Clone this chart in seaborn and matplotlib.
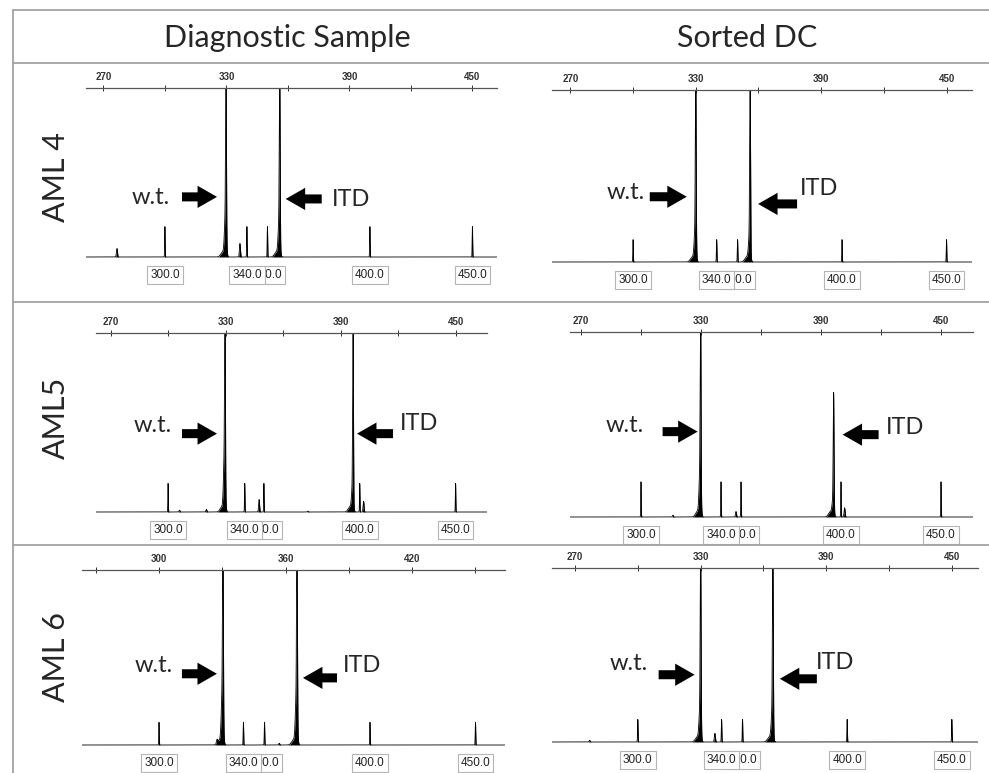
import matplotlib.pyplot as plt
import numpy as np
import seaborn as sns
from matplotlib.lines import Line2D

sns.set_theme(style="white")
plt.rcParams["font.family"] = ["Lato", "DejaVu Sans"]

W, H = 989, 773

# Titles
col_titles = ["Diagnostic Sample", "Sorted DC"]
row_titles = ["AML 4", "AML5", "AML 6"]

# Size standard fragments (bp) and their boxed labels
ladder_bp = [300, 340, 350, 400, 450]
ladder_labels = ["300.0", "340.0", "350.0", "400.0", "450.0"]

# Panels in reading order: AML4 diag, AML4 sorted, AML5 diag, AML5 sorted, AML6 diag, AML6 sorted
ladder_h = [0.18, 0.13, 0.16, 0.19, 0.13, 0.13]

peak_bp = [
    [276.6, 329.8, 336.6, 356.0],
    [330.0, 356.0],
    [306.0, 320.0, 329.7, 347.5, 373.0, 396.5, 402.0],
    [316.0, 329.8, 347.5, 396.3, 401.8],
    [327.5, 330.3, 357.0, 365.4],
    [277.0, 330.0, 336.8, 364.5],
]
peak_h = [
    [0.05, 1.0, 0.08, 1.0],
    [1.0, 1.0],
    [0.01, 0.015, 1.0, 0.07, 0.005, 0.92, 0.06],
    [0.01, 1.0, 0.03, 0.60, 0.05],
    [0.02, 1.0, 0.01, 1.0],
    [0.01, 1.0, 0.05, 1.0],
]
shoulder_h = [
    [0, 0.23, 0, 0.20],
    [0.17, 0.14],
    [0, 0, 0.32, 0, 0, 0.13, 0],
    [0, 0.24, 0, 0.08, 0],
    [0, 0.30, 0, 0.27],
    [0, 0.18, 0, 0.17],
]
wt_bp = [329.8, 330.0, 329.7, 329.8, 330.3, 330.0]
itd_bp = [356.0, 356.0, 396.5, 396.3, 365.4, 364.5]

top_ticks = list(range(270, 451, 30))
top_labels = [
    [270, 330, 390, 450],
    [270, 330, 390, 450],
    [270, 330, 390, 450],
    [270, 330, 390, 450],
    [300, 360, 420],
    [270, 330, 390, 450],
]

# Layout (pixels): left, right, top axis, baseline
panel_px = [
    (86, 497, 88, 257), (552, 972, 90, 262),
    (96, 487, 333, 512), (570, 973, 332, 517),
    (82, 505, 570, 745), (552, 978, 568, 742),
]
panel_xlim = [
    (261.5, 462.0), (261.2, 462.2),
    (262.4, 466.4), (264.5, 466.0),
    (263.5, 464.0), (259.0, 462.5),
]
# arrow/text offsets from the peak in pixels: head, tail, text edge; y fractions: arrow, text baseline
wt_off = [(-9, -44, -56), (-9, -46, -51), (-8, -43, -53), (-3, -38, -57), (-6, -41, -50), (-6, -42, -53)]
itd_off = [(6, 42, 52), (8, 47, 50), (4, 40, 47), (9, 45, 52), (6, 40, 46), (7, 44, 43)]
wt_y = [(0.367, 0.325), (0.39, 0.378), (0.447, 0.458), (0.47, 0.47), (0.417, 0.429), (0.397, 0.425)]
itd_y = [(0.355, 0.314), (0.349, 0.401), (0.447, 0.469), (0.454, 0.459), (0.394, 0.429), (0.374, 0.431)]

fig = plt.figure(figsize=(W / 100, H / 100), dpi=100)


def fx(px):
    return px / W


def fy(py):
    return 1 - py / H


# Frame lines
grey = "#a3a3a3"
for py in [10, 63, 302, 545]:
    fig.add_artist(Line2D([fx(13), 1], [fy(py), fy(py)], color=grey, lw=1.3))
fig.add_artist(Line2D([fx(13), fx(13)], [fy(10), 0], color=grey, lw=1.3))

fig.text(fx(287), fy(47), col_titles[0], fontsize=22, ha="center", va="baseline")
fig.text(fx(747), fy(47), col_titles[1], fontsize=22, ha="center", va="baseline")
for py, name in zip([177, 418, 657], row_titles):
    fig.text(fx(65), fy(py), name, fontsize=22, rotation=90, rotation_mode="anchor",
             ha="center", va="baseline")

arrow_style = "simple,head_length=14,head_width=16,tail_width=6.5"


def gauss(x, mu, sig):
    return np.exp(-0.5 * ((x - mu) / sig) ** 2)


for i, (x0, x1, top, base) in enumerate(panel_px):
    pad = 3
    ax = fig.add_axes([fx(x0), fy(base + pad), (x1 - x0) / W, (base + pad - top) / H])
    lo, hi = panel_xlim[i]
    ppb = (x1 - x0) / (hi - lo)

    grid = np.linspace(lo, hi, 12000)
    trace = np.zeros_like(grid)
    for bp in ladder_bp:
        trace += ladder_h[i] * gauss(grid, bp, 0.12)
    for bp, h, s in zip(peak_bp[i], peak_h[i], shoulder_h[i]):
        trace += h * gauss(grid, bp, 0.2 if h > 0.5 else 0.25)
        if s:
            trace += s * gauss(grid, bp - 0.3, 0.45) + 0.03 * gauss(grid, bp - 1.5, 1.0)
    trace = np.minimum(trace, 1.0)

    sns.lineplot(x=grid, y=trace, ax=ax, color="black", linewidth=0.6,
                 estimator=None, sort=False)
    ax.fill_between(grid, 0, trace, color="black", lw=0)

    ax.set_xlim(lo, hi)
    ax.set_ylim(-pad / (base - top), 1.0)
    ax.set_yticks([])
    ax.set_xlabel("")
    ax.set_ylabel("")
    for side in ["left", "right", "bottom"]:
        ax.spines[side].set_visible(False)
    ax.spines["top"].set_color("#555555")
    ax.spines["top"].set_linewidth(0.9)
    ax.xaxis.set_ticks_position("top")
    ax.set_xticks(top_ticks)
    ax.set_xticklabels([str(t) if t in top_labels[i] else "" for t in top_ticks],
                       fontweight="bold", fontfamily="Liberation Sans")
    ax.tick_params(axis="x", direction="inout", length=4, width=0.7, pad=2,
                   labelsize=7, colors="#333333")
    ax.set_facecolor("none")

    # boxed size-standard labels (340.0 box sits over the 350.0 one, as in the original)
    trans = ax.get_xaxis_transform()
    for bp, lab in zip(ladder_bp, ladder_labels):
        ax.annotate(lab, xy=(bp, 0), xycoords=trans, xytext=(0, -15),
                    textcoords="offset pixels", ha="center", va="center",
                    fontsize=8.5, fontfamily="Liberation Sans", color="#222222",
                    zorder=5 if bp == 350 else 6, annotation_clip=False,
                    bbox=dict(boxstyle="square,pad=0.25", fc="white", ec="#b5b5b5", lw=0.8))

    # w.t. arrow and label
    head, tail, txt = wt_off[i]
    ay, ty = wt_y[i]
    ax.annotate("", xy=(wt_bp[i] + head / ppb, ay), xycoords=trans,
                xytext=(wt_bp[i] + tail / ppb, ay), textcoords=trans,
                arrowprops=dict(arrowstyle=arrow_style, color="black", lw=0,
                                mutation_scale=1, shrinkA=0, shrinkB=0))
    ax.text(wt_bp[i] + txt / ppb, ty, "w.t.", transform=trans, fontsize=17,
            ha="right", va="baseline")

    # ITD arrow and label
    head, tail, txt = itd_off[i]
    ay, ty = itd_y[i]
    ax.annotate("", xy=(itd_bp[i] + head / ppb, ay), xycoords=trans,
                xytext=(itd_bp[i] + tail / ppb, ay), textcoords=trans,
                arrowprops=dict(arrowstyle=arrow_style, color="black", lw=0,
                                mutation_scale=1, shrinkA=0, shrinkB=0))
    ax.text(itd_bp[i] + txt / ppb, ty, "ITD", transform=trans, fontsize=17,
            ha="left", va="baseline")

fig.savefig("out.png", dpi=100)
